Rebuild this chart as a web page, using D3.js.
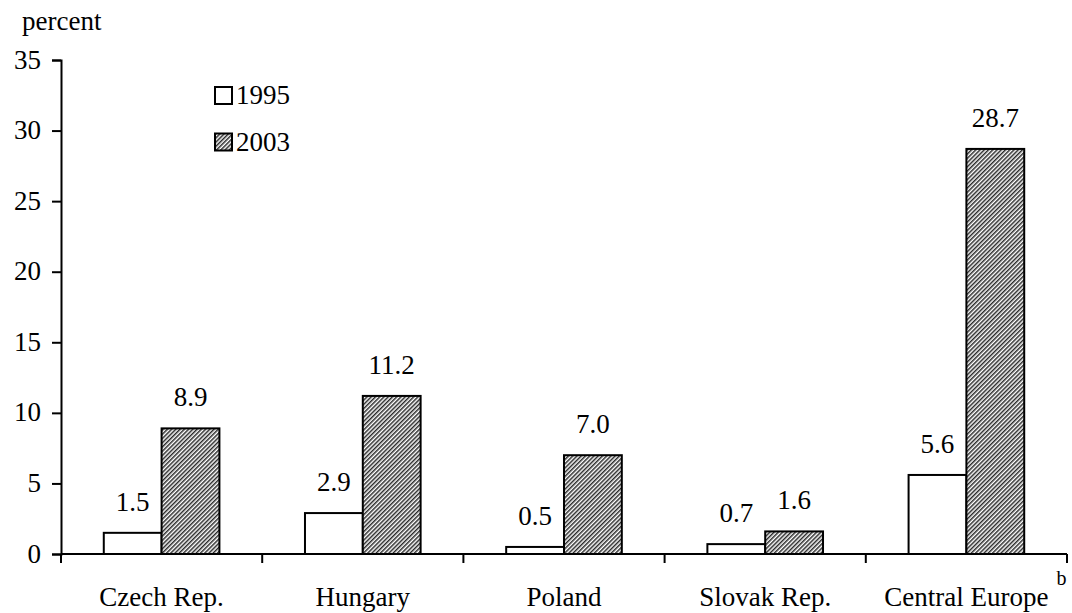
<!DOCTYPE html>
<html>
<head>
<meta charset="utf-8">
<script src="https://cdn.jsdelivr.net/npm/d3@7"></script>
<style>
  body { margin: 0; background: #fff; }
  svg text { font-family: "Liberation Serif", "Times New Roman", serif; fill: #000; }
</style>
</head>
<body>
<div id="chart"></div>
<script>
const categories = ["Czech Rep.", "Hungary", "Poland", "Slovak Rep.", "Central Europe"];
const footnotes = ["", "", "", "", "b"];
const series = ["1995", "2003"];
const values1995 = [1.5, 2.9, 0.5, 0.7, 5.6];
const values2003 = [8.9, 11.2, 7.0, 1.6, 28.7];
const yTicks = [0, 5, 10, 15, 20, 25, 30, 35];

const width = 1072, height = 613;
const margin = { top: 60, right: 5, bottom: 59, left: 61 };
const fontSize = 27;

const svg = d3.select("#chart").append("svg")
    .attr("width", width)
    .attr("height", height);

// hatch for 2003 bars
const defs = svg.append("defs");
defs.append("pattern")
    .attr("id", "hatch")
    .attr("patternUnits", "userSpaceOnUse")
    .attr("width", 3)
    .attr("height", 3)
    .attr("patternTransform", "rotate(45)")
    .call(p => {
        p.append("rect").attr("width", 3).attr("height", 3).attr("fill", "#fff");
        p.append("rect").attr("width", 1.5).attr("height", 3).attr("fill", "#2a2a2a");
    });

const x = d3.scaleBand()
    .domain(categories)
    .range([margin.left, width - margin.right]);

const xSub = d3.scaleBand()
    .domain(series)
    .range([0, x.bandwidth()])
    .paddingOuter(0.74)
    .paddingInner(0);

const y = d3.scaleLinear()
    .domain([0, 35])
    .range([height - margin.bottom, margin.top]);

// y axis
svg.append("g")
    .attr("transform", `translate(${margin.left},0)`)
    .call(d3.axisLeft(y).tickValues(yTicks).tickSize(9).tickPadding(11))
    .call(g => g.selectAll("path, line").attr("stroke", "#000").attr("stroke-width", 2))
    .call(g => g.selectAll("text")
        .attr("font-size", fontSize)
        .attr("dy", "0.3em")
        .style("font-family", "Liberation Serif"));

const rows = categories.map((c, i) => ({ cat: c, v: [values1995[i], values2003[i]] }));

const groups = svg.selectAll("g.grp")
    .data(rows)
    .join("g")
    .attr("class", "grp")
    .attr("transform", d => `translate(${x(d.cat)},0)`);

groups.selectAll("rect")
    .data(d => d.v.map((v, j) => ({ s: series[j], v })))
    .join("rect")
    .attr("x", d => xSub(d.s))
    .attr("y", d => y(d.v))
    .attr("width", xSub.bandwidth())
    .attr("height", d => y(0) - y(d.v))
    .attr("fill", d => d.s === "1995" ? "#fff" : "url(#hatch)")
    .attr("stroke", "#000")
    .attr("stroke-width", 2);

groups.selectAll("text.val")
    .data(d => d.v.map((v, j) => ({ s: series[j], v })))
    .join("text")
    .attr("class", "val")
    .attr("x", d => xSub(d.s) + xSub.bandwidth() / 2)
    .attr("y", d => y(d.v) - 22)
    .attr("text-anchor", "middle")
    .attr("font-size", fontSize)
    .text(d => d3.format(".1f")(d.v));

// x axis
const xAxis = svg.append("g")
    .attr("transform", `translate(0,${y(0)})`);
xAxis.append("line")
    .attr("x1", margin.left).attr("x2", width - margin.right)
    .attr("stroke", "#000").attr("stroke-width", 2);
xAxis.selectAll("line.tick")
    .data(categories.concat(["end"]))
    .join("line")
    .attr("class", "tick")
    .attr("x1", (d, i) => i < categories.length ? x(d) : x(categories[categories.length - 1]) + x.bandwidth())
    .attr("x2", (d, i) => i < categories.length ? x(d) : x(categories[categories.length - 1]) + x.bandwidth())
    .attr("y1", 0).attr("y2", 9)
    .attr("stroke", "#000").attr("stroke-width", 2);

xAxis.selectAll("text.cat")
    .data(categories)
    .join("text")
    .attr("class", "cat")
    .attr("x", d => x(d) + x.bandwidth() / 2)
    .attr("y", 52)
    .attr("text-anchor", "middle")
    .attr("font-size", fontSize)
    .text(d => d)
    .each(function(d, i) {
        if (!footnotes[i]) return;
        const w = this.getComputedTextLength();
        xAxis.append("text")
            .attr("x", x(d) + x.bandwidth() / 2 + w / 2 + 8)
            .attr("y", 31)
            .attr("font-size", 20)
            .text(footnotes[i]);
    });

svg.append("text")
    .attr("x", 22)
    .attr("y", 30)
    .attr("font-size", fontSize)
    .text("percent");

// legend
const legend = svg.append("g").attr("transform", "translate(215,87)");
series.forEach((s, i) => {
    const row = legend.append("g").attr("transform", `translate(0,${i * 46.5})`);
    row.append("rect")
        .attr("width", 17).attr("height", 17)
        .attr("fill", s === "1995" ? "#fff" : "url(#hatch)")
        .attr("stroke", "#000").attr("stroke-width", 2);
    row.append("text")
        .attr("x", 21).attr("y", 17)
        .attr("font-size", fontSize)
        .text(s);
});
</script>
</body>
</html>
